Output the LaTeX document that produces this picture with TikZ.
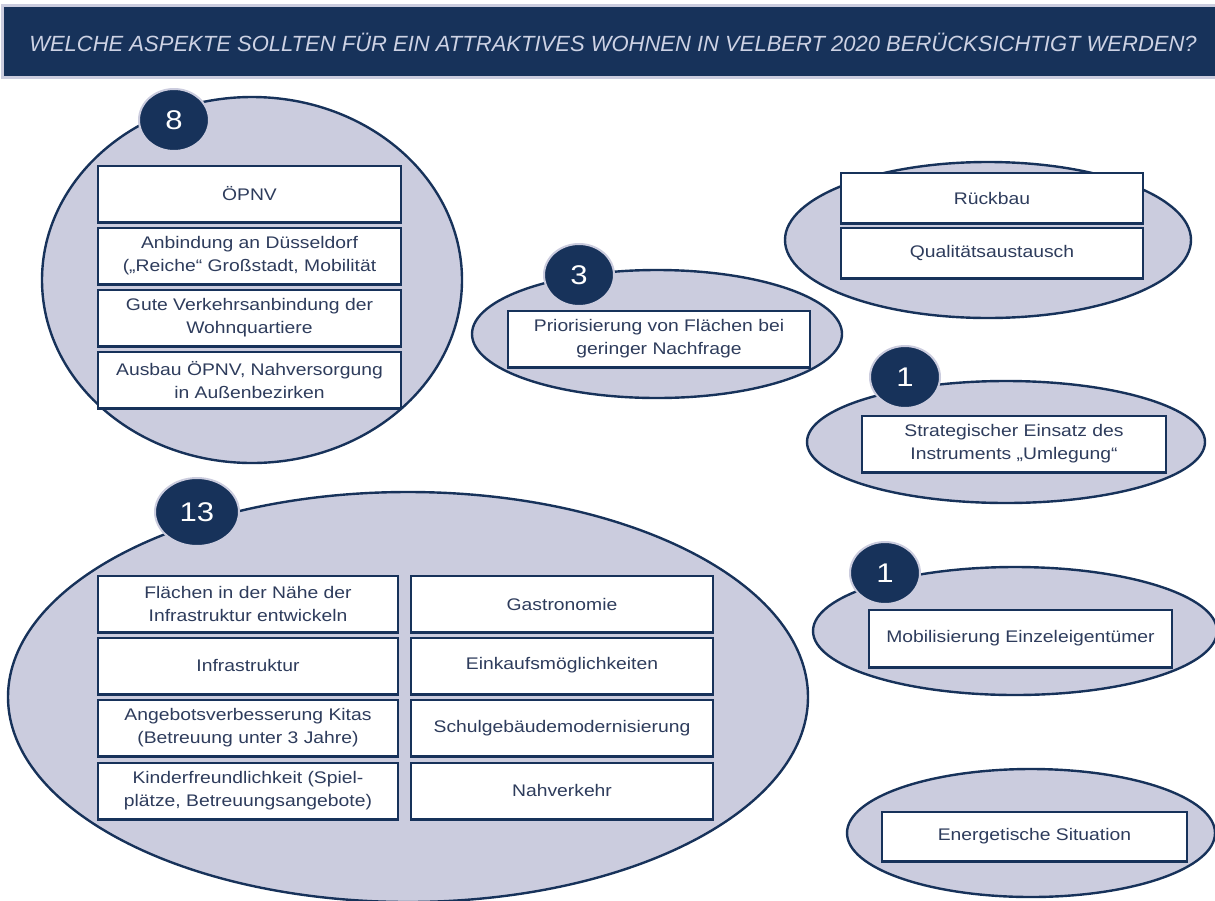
\documentclass[tikz,border=0pt]{standalone}
\usepackage{fontspec}
\setmainfont{Liberation Sans}[FakeStretch=1.15]
\newfontfamily\headfont{Liberation Sans}[FakeStretch=1.0]
\usetikzlibrary{shapes.geometric}
\definecolor{navy}{HTML}{17325A}
\definecolor{lav}{HTML}{CBCCDE}
\definecolor{txt}{HTML}{2E3C5C}
\definecolor{headtxt}{HTML}{CDD2E4}
\tikzset{
  group/.style={ellipse, fill=lav, draw=navy, line width=2.4pt, inner sep=0pt},
  item/.style={rectangle, fill=white, draw=navy, line width=2pt, align=center,
    text=txt, inner sep=0pt, font=\fontsize{16.8}{23}\selectfont,
    preaction={draw=navy, line width=2pt, transform canvas={yshift=-1.2pt}}},
  badge/.style={ellipse, fill=navy, draw=lav, line width=2pt, inner sep=0pt,
    text=white, font=\fontsize{27}{30}\selectfont,
    minimum width=70pt, minimum height=62pt},
}
\begin{document}
\begin{tikzpicture}[x=1pt,y=-1pt]
\useasboundingbox (0,0) rectangle (1215,900);

% title bar
\node[rectangle, fill=navy, draw=lav, line width=3pt, minimum width=1215pt,
  minimum height=72pt, inner sep=0pt] (bar) at (610,41) {};
\node[text=headtxt, font=\headfont\itshape\fontsize{22}{26}\selectfont] (title) at (613,42)
  {WELCHE ASPEKTE SOLLTEN FÜR EIN ATTRAKTIVES WOHNEN IN VELBERT 2020 BERÜCKSICHTIGT WERDEN?};

% group: Verkehr (8)
\node[group, minimum width=420pt, minimum height=366pt] (e8) at (252,280) {};
\node[item, minimum width=303pt, minimum height=56pt] (a1) at (249.5,194) {ÖPNV};
\node[item, minimum width=303pt, minimum height=56pt] (a2) at (249.5,256) {Anbindung an Düsseldorf\\(„Reiche“ Großstadt, Mobilität};
\node[item, minimum width=303pt, minimum height=56pt] (a3) at (249.5,318) {Gute Verkehrsanbindung der\\Wohnquartiere};
\node[item, minimum width=303pt, minimum height=56pt] (a4) at (249.5,380) {Ausbau ÖPNV, Nahversorgung\\in Außenbezirken};
\node[badge] (c8) at (174,120) {8};

% group: Priorisierung (3)
\node[group, minimum width=370pt, minimum height=128pt] (e3) at (657,334) {};
\node[item, minimum width=302pt, minimum height=56pt] (b1) at (659,339) {Priorisierung von Flächen bei\\geringer Nachfrage};
\node[badge] (c3) at (579,275) {3};

% group: Rückbau
\node[group, minimum width=406pt, minimum height=156pt] (er) at (988,240) {};
\node[item, minimum width=302pt, minimum height=50pt] (r1) at (992,198) {Rückbau};
\node[item, minimum width=302pt, minimum height=50pt] (r2) at (992,253) {Qualitätsaustausch};

% group: Umlegung (1)
\node[group, minimum width=398pt, minimum height=122pt] (es) at (1006,442) {};
\node[item, minimum width=304pt, minimum height=56pt] (s1) at (1014,444) {Strategischer Einsatz des\\Instruments „Umlegung“};
\node[badge] (c1a) at (905,377) {1};

% group: Einzeleigentümer (1)
\node[group, minimum width=404pt, minimum height=128pt] (em) at (1015,631) {};
\node[item, minimum width=303pt, minimum height=57pt] (m1) at (1020.5,638.5) {Mobilisierung Einzeleigentümer};
\node[badge] (c1b) at (885,573) {1};

% group: Energie
\node[group, minimum width=368pt, minimum height=128pt] (ee) at (1031,833) {};
\node[item, minimum width=305pt, minimum height=49pt] (n1) at (1034.5,836.5) {Energetische Situation};

% group: Infrastruktur (13)
\node[group, minimum width=800pt, minimum height=410pt] (e13) at (408,697) {};
\node[item, minimum width=300pt, minimum height=56pt] (i1) at (248,604) {Flächen in der Nähe der\\Infrastruktur entwickeln};
\node[item, minimum width=300pt, minimum height=56pt] (i2) at (248,665.5) {Infrastruktur};
\node[item, minimum width=300pt, minimum height=56pt] (i3) at (248,728) {Angebotsverbesserung Kitas\\(Betreuung unter 3 Jahre)};
\node[item, minimum width=300pt, minimum height=56pt] (i4) at (248,790.5) {Kinderfreundlichkeit (Spiel-\\plätze, Betreuungsangebote)};
\node[item, minimum width=302pt, minimum height=56pt] (j1) at (562,604) {Gastronomie};
\node[item, minimum width=302pt, minimum height=56pt] (j2) at (562,665.5) {Einkaufsmöglichkeiten};
\node[item, minimum width=302pt, minimum height=56pt] (j3) at (562,728) {Schulgebäudemodernisierung};
\node[item, minimum width=302pt, minimum height=56pt] (j4) at (562,790.5) {Nahverkehr};
\node[badge, minimum width=84pt, minimum height=68pt] (c13) at (197,512) {13};
\end{tikzpicture}
\end{document}
